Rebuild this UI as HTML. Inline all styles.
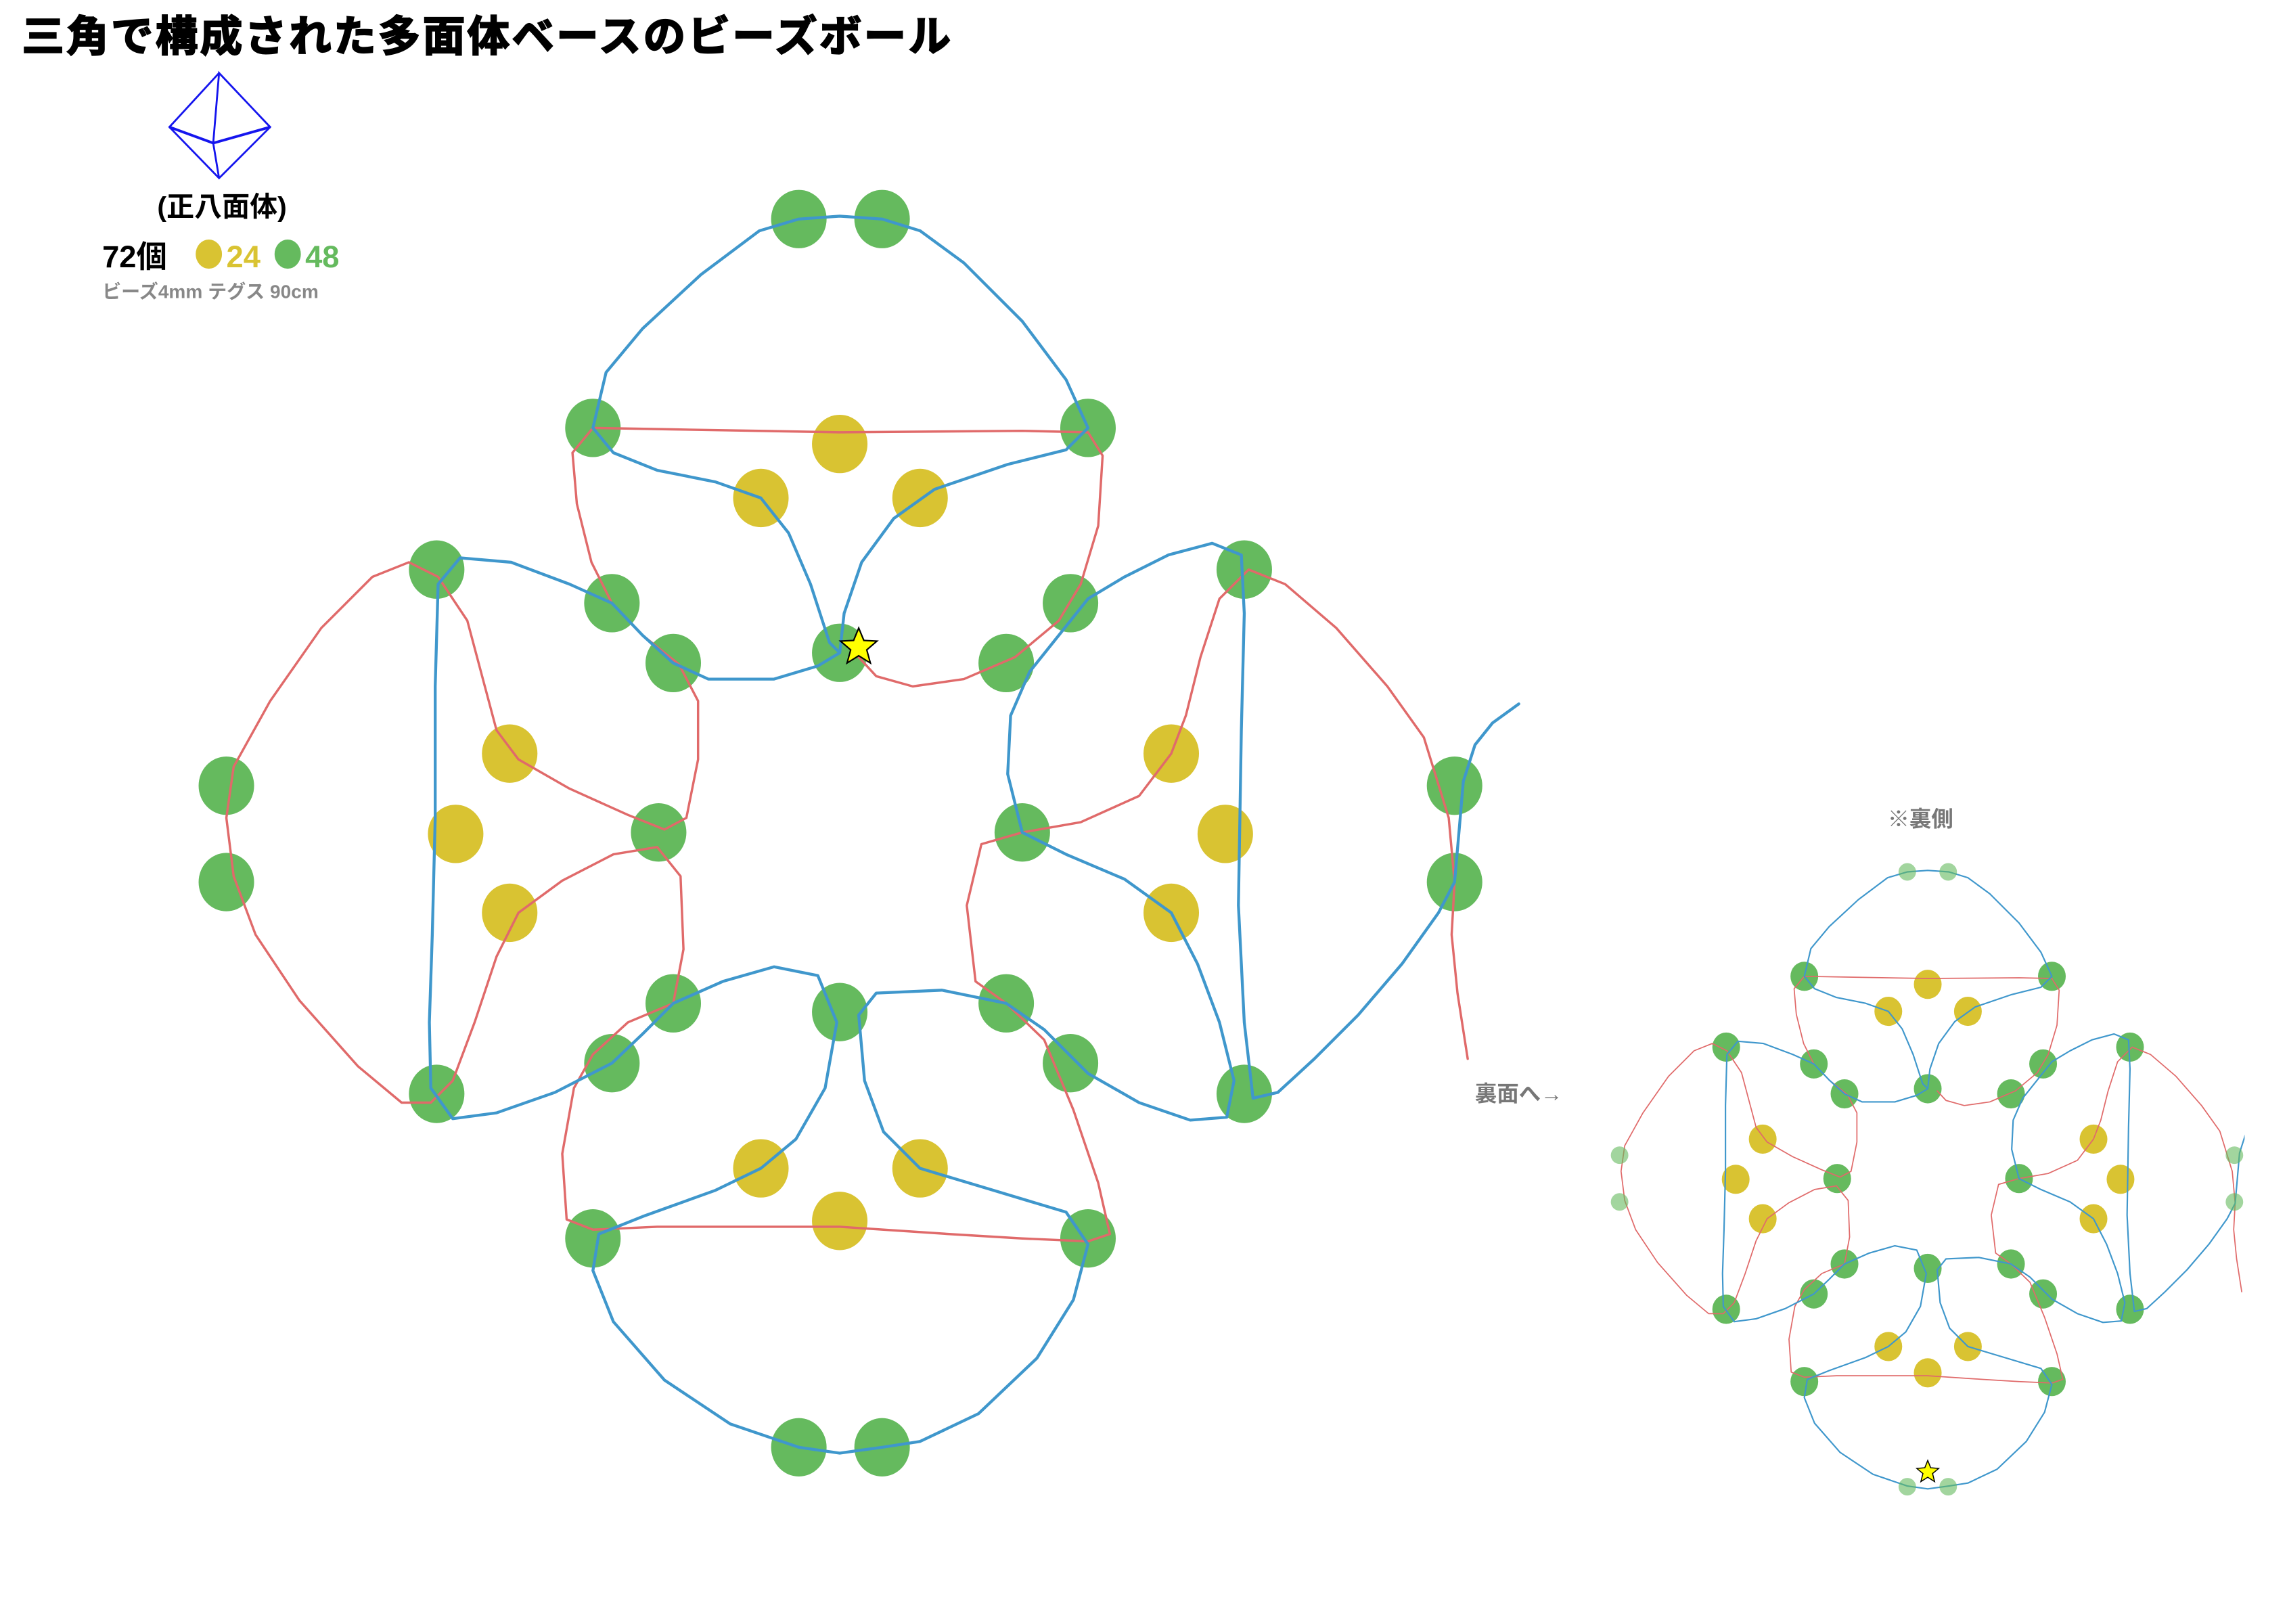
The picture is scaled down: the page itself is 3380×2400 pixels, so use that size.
<!DOCTYPE html>
<html><head><meta charset="utf-8"><style>
html,body{margin:0;padding:0;background:#fff;}
svg{display:block;}
text{font-family:"Liberation Sans","Noto Sans CJK JP",sans-serif;font-weight:bold;}
</style></head><body>
<svg width="3380" height="2400" viewBox="0 0 1566 1112" preserveAspectRatio="none" xmlns="http://www.w3.org/2000/svg">
<defs>
<g id="beads">
<g fill="#65ba5e">
<ellipse cx="406" cy="293" rx="19" ry="20"/><ellipse cx="745" cy="293" rx="19" ry="20"/>
<ellipse cx="419" cy="413" rx="19" ry="20"/><ellipse cx="733" cy="413" rx="19" ry="20"/>
<ellipse cx="461" cy="454" rx="19" ry="20"/><ellipse cx="575" cy="447" rx="19" ry="20"/><ellipse cx="689" cy="454" rx="19" ry="20"/>
<ellipse cx="299" cy="390" rx="19" ry="20"/><ellipse cx="299" cy="749" rx="19" ry="20"/><ellipse cx="451" cy="570" rx="19" ry="20"/>
<ellipse cx="852" cy="390" rx="19" ry="20"/><ellipse cx="852" cy="749" rx="19" ry="20"/><ellipse cx="700" cy="570" rx="19" ry="20"/>
<ellipse cx="461" cy="687" rx="19" ry="20"/><ellipse cx="575" cy="693" rx="19" ry="20"/><ellipse cx="689" cy="687" rx="19" ry="20"/>
<ellipse cx="419" cy="728" rx="19" ry="20"/><ellipse cx="733" cy="728" rx="19" ry="20"/>
<ellipse cx="406" cy="848" rx="19" ry="20"/><ellipse cx="745" cy="848" rx="19" ry="20"/>
</g>
<g fill="#d9c332">
<ellipse cx="575" cy="304" rx="19" ry="20"/><ellipse cx="521" cy="341" rx="19" ry="20"/><ellipse cx="630" cy="341" rx="19" ry="20"/>
<ellipse cx="349" cy="516" rx="19" ry="20"/><ellipse cx="312" cy="571" rx="19" ry="20"/><ellipse cx="349" cy="625" rx="19" ry="20"/>
<ellipse cx="802" cy="516" rx="19" ry="20"/><ellipse cx="839" cy="571" rx="19" ry="20"/><ellipse cx="802" cy="625" rx="19" ry="20"/>
<ellipse cx="521" cy="800" rx="19" ry="20"/><ellipse cx="630" cy="800" rx="19" ry="20"/><ellipse cx="575" cy="836" rx="19" ry="20"/>
</g>
</g>
<g id="paths" fill="none" stroke-linejoin="round" stroke-linecap="round">
<polyline stroke="#e06a6a" stroke-width="1.6" points="1005,725 998,680 994,640 996,604 992,560 975,505 950,470 915,430 880,400 855,390 835,410 822,450 812,490 802,516 780,545 740,563 700,570 672,578 662,620 668,672 689,687 715,712 735,760 752,810 760,845 745,850 700,848 650,845 575,840 500,840 450,840 406,842 388,835 385,790 393,745 406,722 430,700 461,687 468,650 466,600 450,580 420,585 385,603 355,625 340,655 325,700 310,740 295,755 275,755 245,730 205,685 175,640 160,600 155,560 160,525 185,480 220,430 255,395 280,385 300,395 320,425 332,470 340,500 355,520 390,540 430,558 455,568 470,560 478,520 478,480 465,455 440,435 419,413 405,385 395,345 392,310 406,293 460,294 575,296 700,295 745,296 755,312 752,360 740,400 725,425 695,450 660,465 625,470 600,463 588,450"/>
<polyline stroke="#3f97cc" stroke-width="2" points="1040,482 1022,495 1010,510 1002,535 999,570 996,604 985,625 960,660 930,695 900,725 875,748 858,752 852,700 848,620 850,500 852,420 850,380 830,372 800,380 770,395 745,410 725,435 705,460 692,490 690,530 700,570 730,585 770,602 802,625 820,660 835,700 845,740 840,765 815,767 780,755 745,735 715,705 689,687 645,678 600,680 588,695 592,740 605,775 630,800 680,815 730,830 745,852 735,890 710,930 670,968 630,987 604,991 575,995 547,991 500,975 455,945 420,905 406,870 410,845 440,833 490,815 521,800 545,780 565,745 573,700 560,668 530,662 495,672 461,687 440,708 419,728 380,748 340,762 310,766 295,745 294,700 296,640 298,560 298,470 300,400 315,382 350,385 390,400 419,413 440,435 461,454 485,465 530,465 560,456 575,447 578,420 590,385 612,355 640,335 690,318 730,308 745,293 730,260 700,220 660,180 630,158 604,150 575,148 547,150 520,158 480,188 440,225 415,255 406,293 420,310 450,322 490,330 521,341 540,365 555,400 568,440 575,447"/>
</g>
</defs>

<text x="15" y="35" font-size="29" fill="#000" letter-spacing="1.5" stroke="#000" stroke-width="1">三角で構成された多面体ベースのビーズボール</text>

<g stroke="#1515ee" stroke-width="1.3" fill="none">
<polyline points="150,50 116,87 150,122 185,87 150,50 146,98 150,122"/>
<polyline points="116,87 146,98 185,87" stroke-width="1.8"/>
</g>
<text x="152" y="148" font-size="19" fill="#000" text-anchor="middle">(正八面体)</text>
<text x="70" y="183" font-size="21" fill="#000">72個</text>
<ellipse cx="143" cy="174" rx="9" ry="10" fill="#d9c332"/>
<text x="155" y="183" font-size="21" fill="#d9c332">24</text>
<ellipse cx="197" cy="174" rx="9" ry="10" fill="#65ba5e"/>
<text x="209" y="183" font-size="21" fill="#65ba5e">48</text>
<text x="70" y="204" font-size="13" fill="#888">ビーズ4mm テグス 90cm</text>

<g fill="#65ba5e">
<ellipse cx="547" cy="150" rx="19" ry="20"/><ellipse cx="604" cy="150" rx="19" ry="20"/>
<ellipse cx="155" cy="538" rx="19" ry="20"/><ellipse cx="155" cy="604" rx="19" ry="20"/>
<ellipse cx="996" cy="538" rx="19" ry="20"/><ellipse cx="996" cy="604" rx="19" ry="20"/>
<ellipse cx="547" cy="991" rx="19" ry="20"/><ellipse cx="604" cy="991" rx="19" ry="20"/>
</g>
<use href="#beads"/>
<use href="#paths"/>
<polygon points="588,430 591.5,438.5 600.5,439 593.5,445 596,454 588,449 580,454 582.5,445 575.5,439 584.5,438.5" fill="#ffff00" stroke="#000" stroke-width="1"/>

<text x="1040" y="754" font-size="15" fill="#777" text-anchor="middle">裏面へ→</text>
<text x="1315" y="566" font-size="15" fill="#777" text-anchor="middle">※裏側</text>

<g transform="translate(1320,807) scale(0.5,0.5) translate(-575,-570)">
<use href="#beads"/>
<use href="#paths"/>
</g>
<rect x="1537" y="740" width="30" height="160" fill="#fff"/>
<g fill="#65ba5e" opacity="0.6">
<circle cx="1306" cy="597" r="6"/><circle cx="1334" cy="597" r="6"/>
<circle cx="1109" cy="791" r="6"/><circle cx="1109" cy="823" r="6"/>
<circle cx="1530" cy="791" r="6"/><circle cx="1530" cy="823" r="6"/>
<circle cx="1306" cy="1018" r="6"/><circle cx="1334" cy="1018" r="6"/>
</g>
<polygon points="1320,1000 1322,1005 1327.5,1005.5 1323.3,1009 1324.7,1014.5 1320,1011.5 1315.3,1014.5 1316.7,1009 1312.5,1005.5 1318,1005" fill="#ffff00" stroke="#000" stroke-width="0.7"/>
</svg>
</body></html>
